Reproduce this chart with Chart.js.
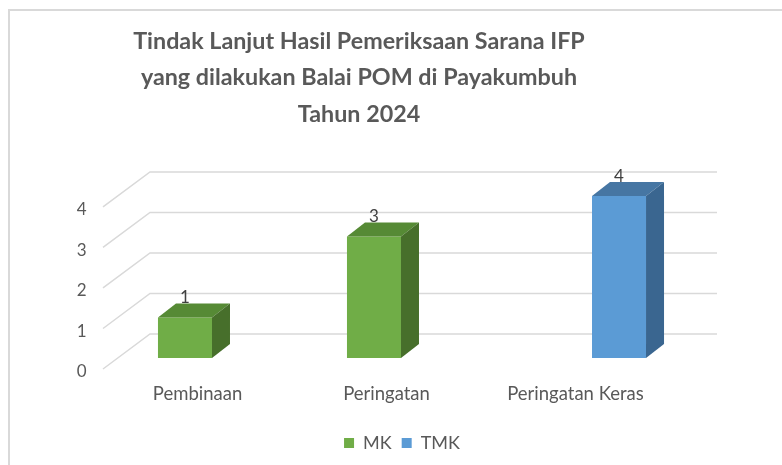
<!DOCTYPE html>
<html>
<head>
<meta charset="utf-8">
<title>Tindak Lanjut Hasil Pemeriksaan Sarana IFP</title>
<script src="https://cdn.jsdelivr.net/npm/chart.js@4.4.1/dist/chart.umd.min.js"></script>
<style>
  html, body { margin: 0; padding: 0; background: #fff; overflow: hidden; }
  .wrap { position: relative; width: 782px; height: 465px; overflow: hidden; }
  .frame {
    position: absolute; left: 8px; top: 9px; width: 900px; height: 600px;
    border-top: 2px solid #d9d9d9; border-left: 2px solid #d9d9d9;
  }
  .wrap canvas { position: absolute; left: 0; top: 0; }
</style>
</head>
<body>
<div class="wrap">
  <div class="frame"></div>
  <canvas id="tindakChart"></canvas>
</div>
<script>
// --- data ---
const titleLines = [
    "Tindak Lanjut Hasil Pemeriksaan Sarana IFP",
    "yang dilakukan Balai POM di Payakumbuh",
    "Tahun 2024"
];
const categories = ["Pembinaan", "Peringatan", "Peringatan Keras"];
const seriesNames = ["MK", "TMK"];
const mkValues = [1, 3, null];
const tmkValues = [null, null, 4];
const yTicks = [0, 1, 2, 3, 4];

// --- 3D look (offsets in px from the bar plane) ---
const FRONT = { dx: -15.5, dy: 11 };   // front edge of the floor
const BACK = { dx: 31.5, dy: -24 };    // back wall
const BAR = { dx: 18, dy: -14 };       // depth of each bar
const LEGEND_SHIFT = 16;
const textGrey = "#595959";

const depth3d = {
    id: "depth3d",
    afterLayout(chart) {
        // push the legend a bit further down, like the original
        const lg = chart.legend;
        lg.top += LEGEND_SHIFT;
        lg.bottom += LEGEND_SHIFT;
    },
    beforeDatasetsDraw(chart) {
        // back wall gridlines + side wall diagonals
        const { ctx, chartArea: a, scales: { y } } = chart;
        ctx.save();
        ctx.strokeStyle = "#d9d9d9";
        ctx.lineWidth = 1.5;
        y.ticks.forEach(t => {
            const py = y.getPixelForValue(t.value);
            ctx.beginPath();
            ctx.moveTo(a.left + FRONT.dx, py + FRONT.dy);
            ctx.lineTo(a.left + BACK.dx, py + BACK.dy);
            ctx.lineTo(a.right + BACK.dx, py + BACK.dy);
            ctx.stroke();
        });
        ctx.restore();
    },
    afterDatasetsDraw(chart) {
        const ctx = chart.ctx;
        const poly = (pts, color) => {
            ctx.fillStyle = color;
            ctx.beginPath();
            pts.forEach(([px, py], k) => k ? ctx.lineTo(px, py) : ctx.moveTo(px, py));
            ctx.closePath();
            ctx.fill();
        };
        ctx.save();
        chart.data.datasets.forEach((ds, i) => {
            const meta = chart.getDatasetMeta(i);
            meta.data.forEach((bar, j) => {
                const v = ds.data[j];
                if (v === null || v === undefined) return;
                const { x, y, base, width } = bar.getProps(["x", "y", "base", "width"], true);
                const l = x - width / 2, r = x + width / 2;
                poly([[l, y], [r, y], [r + BAR.dx, y + BAR.dy], [l + BAR.dx, y + BAR.dy]], ds.topColor);
                poly([[r, y], [r + BAR.dx, y + BAR.dy], [r + BAR.dx, base + BAR.dy], [r, base]], ds.sideColor);
                // value label
                ctx.fillStyle = "#404040";
                ctx.font = "17px Lato";
                ctx.textAlign = "center";
                ctx.textBaseline = "alphabetic";
                ctx.fillText(String(v), x, y + BAR.dy);
            });
        });
        ctx.restore();
    }
};

const ctx = document.getElementById("tindakChart").getContext("2d");
new Chart(ctx, {
    type: "bar",
    data: {
        labels: categories,
        datasets: [
            {
                label: seriesNames[0],
                data: mkValues,
                backgroundColor: "#70ad47",
                topColor: "#568a35",
                sideColor: "#476f2b",
                borderWidth: 0,
                categoryPercentage: 0.593,
                barPercentage: 0.964
            },
            {
                label: seriesNames[1],
                data: tmkValues,
                backgroundColor: "#5b9bd5",
                topColor: "#4676a3",
                sideColor: "#3a6690",
                borderWidth: 0,
                categoryPercentage: 0.593,
                barPercentage: 0.964
            }
        ]
    },
    options: {
        responsive: true,
        maintainAspectRatio: false,
        animation: false,
        layout: { padding: { left: 32.5, right: 96.5, top: 0, bottom: 19 } },
        scales: {
            x: {
                grid: { display: false, drawTicks: false },
                border: { display: false },
                afterFit: (scale) => { scale.height = 50; },
                ticks: {
                    color: textGrey,
                    font: { family: "Lato", size: 18.5 },
                    padding: 25,
                    labelOffset: FRONT.dx
                }
            },
            y: {
                min: yTicks[0],
                max: yTicks[yTicks.length - 1],
                grid: { display: false, drawTicks: false },
                border: { display: false },
                afterFit: (scale) => { scale.width = 86; },
                ticks: {
                    stepSize: 1,
                    color: textGrey,
                    font: { family: "Lato", size: 17 },
                    padding: 32,
                    labelOffset: 14
                }
            }
        },
        plugins: {
            title: {
                display: true,
                text: titleLines,
                color: textGrey,
                font: { family: "Lato", size: 23.3, weight: "bold", lineHeight: 1.567 },
                padding: { top: 23, bottom: 63.4 }
            },
            legend: {
                position: "bottom",
                fullSize: false,
                labels: {
                    color: textGrey,
                    font: { family: "Lato", size: 18 },
                    boxWidth: 10,
                    boxHeight: 10,
                    padding: 10
                }
            },
            tooltip: { enabled: false }
        }
    },
    plugins: [depth3d]
});
</script>
</body>
</html>
